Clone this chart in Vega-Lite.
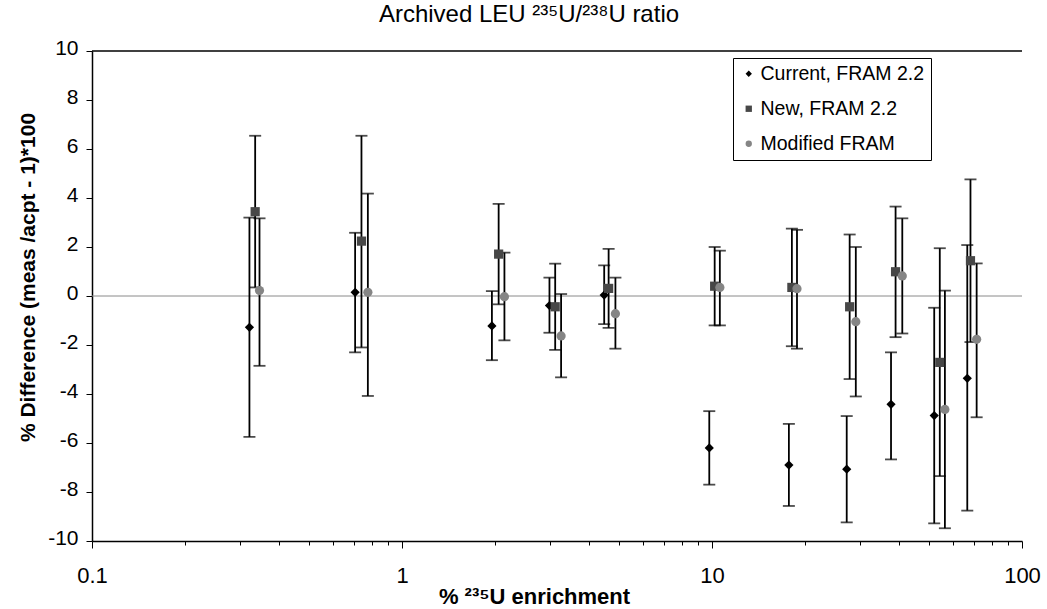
{
  "$schema": "https://vega.github.io/schema/vega-lite/v6.json",
  "width": 930,
  "height": 490,
  "autosize": {"type": "none"},
  "padding": {"left": 92, "top": 51, "right": 25, "bottom": 68},
  "background": "white",
  "config": {"font": "Liberation Sans", "view": {"stroke": null}},
  "title": {"text": "Archived LEU ²³⁵U/²³⁸U ratio", "fontSize": 24, "fontWeight": "normal", "color": "black", "anchor": "middle", "frame": "bounds", "offset": 10, "font": "Liberation Sans"},
  "data": {"values": [
    {"series": "Current, FRAM 2.2", "x": 0.322, "y": -1.28, "lo": -5.75, "hi": 3.2},
    {"series": "Current, FRAM 2.2", "x": 0.706, "y": 0.15, "lo": -2.3, "hi": 2.58},
    {"series": "Current, FRAM 2.2", "x": 1.95, "y": -1.22, "lo": -2.62, "hi": 0.2},
    {"series": "Current, FRAM 2.2", "x": 2.99, "y": -0.39, "lo": -1.5, "hi": 0.75},
    {"series": "Current, FRAM 2.2", "x": 4.49, "y": 0.04, "lo": -1.15, "hi": 1.25},
    {"series": "Current, FRAM 2.2", "x": 9.8, "y": -6.2, "lo": -7.7, "hi": -4.7},
    {"series": "Current, FRAM 2.2", "x": 17.7, "y": -6.9, "lo": -8.57, "hi": -5.22},
    {"series": "Current, FRAM 2.2", "x": 27.2, "y": -7.07, "lo": -9.24, "hi": -4.9},
    {"series": "Current, FRAM 2.2", "x": 37.8, "y": -4.42, "lo": -6.67, "hi": -2.3},
    {"series": "Current, FRAM 2.2", "x": 52.1, "y": -4.88, "lo": -9.28, "hi": -0.48},
    {"series": "Current, FRAM 2.2", "x": 66.6, "y": -3.36, "lo": -8.76, "hi": 2.08},
    {"series": "New, FRAM 2.2", "x": 0.336, "y": 3.44, "lo": 0.35, "hi": 6.54},
    {"series": "New, FRAM 2.2", "x": 0.74, "y": 2.24, "lo": -2.1, "hi": 6.54},
    {"series": "New, FRAM 2.2", "x": 2.05, "y": 1.71, "lo": -0.34, "hi": 3.76},
    {"series": "New, FRAM 2.2", "x": 3.12, "y": -0.44, "lo": -2.2, "hi": 1.32},
    {"series": "New, FRAM 2.2", "x": 4.64, "y": 0.31, "lo": -1.3, "hi": 1.92},
    {"series": "New, FRAM 2.2", "x": 10.2, "y": 0.4, "lo": -1.2, "hi": 2.0},
    {"series": "New, FRAM 2.2", "x": 18.1, "y": 0.35, "lo": -2.05, "hi": 2.75},
    {"series": "New, FRAM 2.2", "x": 27.8, "y": -0.44, "lo": -3.39, "hi": 2.51},
    {"series": "New, FRAM 2.2", "x": 39.1, "y": 0.99, "lo": -1.68, "hi": 3.65},
    {"series": "New, FRAM 2.2", "x": 54.3, "y": -2.71, "lo": -7.35, "hi": 1.95},
    {"series": "New, FRAM 2.2", "x": 68.2, "y": 1.44, "lo": -1.88, "hi": 4.76},
    {"series": "Modified FRAM", "x": 0.347, "y": 0.22, "lo": -2.85, "hi": 3.17},
    {"series": "Modified FRAM", "x": 0.776, "y": 0.15, "lo": -4.08, "hi": 4.18},
    {"series": "Modified FRAM", "x": 2.14, "y": -0.03, "lo": -1.81, "hi": 1.77},
    {"series": "Modified FRAM", "x": 3.26, "y": -1.63, "lo": -3.32, "hi": 0.08},
    {"series": "Modified FRAM", "x": 4.88, "y": -0.72, "lo": -2.15, "hi": 0.75},
    {"series": "Modified FRAM", "x": 10.6, "y": 0.35, "lo": -1.2, "hi": 1.85},
    {"series": "Modified FRAM", "x": 18.8, "y": 0.3, "lo": -2.15, "hi": 2.7},
    {"series": "Modified FRAM", "x": 29.1, "y": -1.05, "lo": -4.1, "hi": 2.0},
    {"series": "Modified FRAM", "x": 41.1, "y": 0.82, "lo": -1.53, "hi": 3.17},
    {"series": "Modified FRAM", "x": 56.4, "y": -4.63, "lo": -9.48, "hi": 0.22},
    {"series": "Modified FRAM", "x": 71.4, "y": -1.77, "lo": -4.95, "hi": 1.33}
  ]},
  "layer": [
    {
      "data": {"values": [{}]},
      "mark": {"type": "rule", "color": "#8a8a8a", "strokeWidth": 1},
      "encoding": {"y": {"datum": 0, "type": "quantitative"}}
    },
    {
      "data": {"values": [{}]},
      "mark": {"type": "rule", "color": "black", "strokeWidth": 1.5},
      "encoding": {"y": {"datum": 10, "type": "quantitative"}}
    },
    {
      "mark": {"type": "rule", "color": "black", "strokeWidth": 1.8},
      "encoding": {
        "x": {"field": "x", "type": "quantitative", "title": "% ²³⁵U enrichment",
          "scale": {"type": "log", "domain": [0.1, 100], "nice": false},
          "axis": {
            "values": [0.1, 0.2, 0.3, 0.4, 0.5, 0.6, 0.7, 0.8, 0.9, 1, 2, 3, 4, 5, 6, 7, 8, 9, 10, 20, 30, 40, 50, 60, 70, 80, 90, 100],
            "labelExpr": "(datum.value == 0.1 || datum.value == 1 || datum.value == 10 || datum.value == 100) ? datum.label : ''",
            "format": "~g",
            "grid": false,
            "domainColor": "black", "domainWidth": 1.5,
            "tickColor": "black", "tickWidth": 1,
            "tickSize": {"condition": {"test": "datum.value == 0.1 || datum.value == 1 || datum.value == 10 || datum.value == 100", "value": 7}, "value": 4},
            "labelFontSize": 22, "labelColor": "black", "labelPadding": 17, "labelFont": "Liberation Sans",
            "labelOverlap": false, "labelFlush": false,
            "titleFontSize": 22, "titleFontWeight": "bold", "titleColor": "black", "titlePadding": 0, "titleFont": "Liberation Sans",
            "titleX": 442
          }},
        "y": {"field": "lo", "type": "quantitative", "title": "% Difference (meas /acpt - 1)*100",
          "scale": {"domain": [-10, 10], "nice": false, "zero": false},
          "axis": {
            "values": [-10, -8, -6, -4, -2, 0, 2, 4, 6, 8, 10],
            "labelExpr": "replace(datum.label, '−', '-')",
            "grid": false,
            "domainColor": "black", "domainWidth": 1.5,
            "tickColor": "black", "tickWidth": 1, "tickSize": 6,
            "labelFontSize": 21, "labelColor": "black", "labelPadding": 8, "labelFont": "Liberation Sans", "labelOffset": -3,
            "titleFontSize": 21, "titleFontWeight": "bold", "titleColor": "black", "titlePadding": 9, "titleFont": "Liberation Sans",
            "titleY": 226
          }},
        "y2": {"field": "hi"}
      }
    },
    {
      "mark": {"type": "tick", "orient": "horizontal", "size": 12, "thickness": 1.8, "color": "black"},
      "encoding": {
        "x": {"field": "x", "type": "quantitative", "title": "% ²³⁵U enrichment"},
        "y": {"field": "lo", "type": "quantitative", "title": "% Difference (meas /acpt - 1)*100"}
      }
    },
    {
      "mark": {"type": "tick", "orient": "horizontal", "size": 12, "thickness": 1.8, "color": "black"},
      "encoding": {
        "x": {"field": "x", "type": "quantitative", "title": "% ²³⁵U enrichment"},
        "y": {"field": "hi", "type": "quantitative", "title": "% Difference (meas /acpt - 1)*100"}
      }
    },
    {
      "mark": {"type": "point", "filled": true, "opacity": 1, "size": 85},
      "encoding": {
        "x": {"field": "x", "type": "quantitative", "title": "% ²³⁵U enrichment"},
        "y": {"field": "y", "type": "quantitative", "title": "% Difference (meas /acpt - 1)*100"},
        "shape": {"field": "series", "type": "nominal",
          "scale": {"domain": ["Current, FRAM 2.2", "New, FRAM 2.2", "Modified FRAM"], "range": ["diamond", "square", "circle"]},
          "legend": {"orient": "none", "legendX": 641, "legendY": 7, "title": null, "strokeColor": "black", "fillColor": "white", "padding": 6,
            "labelFontSize": 19.5, "labelColor": "black", "labelFont": "Liberation Sans", "labelLimit": 400, "symbolSize": 40, "rowPadding": 14, "labelOffset": 2, "symbolStrokeWidth": 0}},
        "color": {"field": "series", "type": "nominal",
          "scale": {"domain": ["Current, FRAM 2.2", "New, FRAM 2.2", "Modified FRAM"], "range": ["#000000", "#474747", "#858585"]},
          "legend": {"orient": "none", "legendX": 641, "legendY": 7, "title": null, "strokeColor": "black", "fillColor": "white", "padding": 6,
            "labelFontSize": 19.5, "labelColor": "black", "labelFont": "Liberation Sans", "labelLimit": 400, "symbolSize": 40, "rowPadding": 14, "labelOffset": 2, "symbolStrokeWidth": 0}}
      }
    }
  ]
}
